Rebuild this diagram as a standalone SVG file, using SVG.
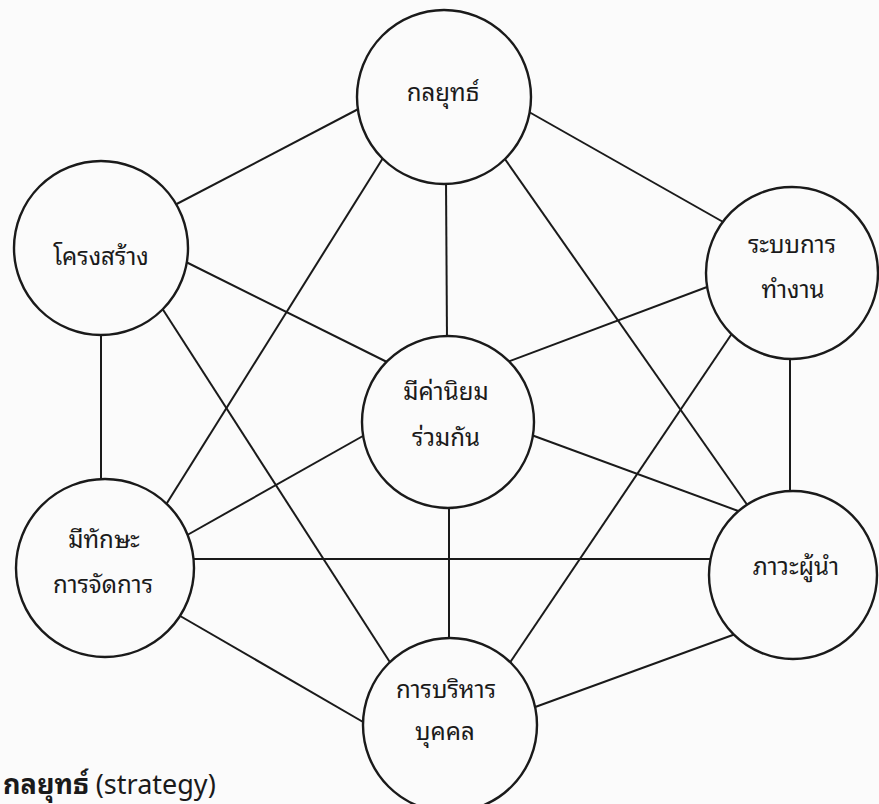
<svg xmlns="http://www.w3.org/2000/svg" width="879" height="804" viewBox="0 0 879 804">
<style>
.bg{fill:#fbfbfb}
.c{fill:#fbfbfb;stroke:#1a1a1a;stroke-width:2.4}
.l{stroke:#1a1a1a;stroke-width:2;fill:none}
.t{font-family:"Noto Sans Thai Looped","Noto Sans Thai","Noto Sans","DejaVu Sans",sans-serif;font-size:24px;fill:#1a1a1a;text-anchor:middle}
.b{font-family:"Noto Sans Thai Looped","Noto Sans Thai","Noto Sans","DejaVu Sans",sans-serif;font-size:27px;fill:#1a1a1a}
</style>
<rect class="bg" x="0" y="0" width="879" height="804"/>
<g id="connectors">
<line class="l" x1="366" y1="105" x2="169" y2="208"/>
<line class="l" x1="522" y1="108" x2="732" y2="227"/>
<line class="l" x1="446" y1="180" x2="447" y2="340"/>
<line class="l" x1="388" y1="150" x2="162" y2="511"/>
<line class="l" x1="500" y1="152" x2="748" y2="506"/>
<line class="l" x1="180" y1="259" x2="393" y2="365"/>
<line class="l" x1="101" y1="330" x2="101" y2="482"/>
<line class="l" x1="160" y1="305" x2="393" y2="667"/>
<line class="l" x1="715" y1="284" x2="502" y2="364"/>
<line class="l" x1="790" y1="355" x2="790" y2="495"/>
<line class="l" x1="735" y1="329" x2="507" y2="667"/>
<line class="l" x1="370" y1="432" x2="182" y2="538"/>
<line class="l" x1="526" y1="433" x2="741" y2="512"/>
<line class="l" x1="449" y1="505" x2="449" y2="642"/>
<line class="l" x1="190" y1="559" x2="712" y2="559"/>
<line class="l" x1="175" y1="613" x2="370" y2="726"/>
<line class="l" x1="741" y1="632" x2="527" y2="710"/>
</g>
<g id="strategy"><circle class="c" cx="444" cy="97" r="87"/><text class="t" x="443" y="101">กลยุทธ์</text></g>
<g id="structure"><circle class="c" cx="101" cy="248" r="87"/><text class="t" x="101" y="265">โครงสร้าง</text></g>
<g id="systems"><circle class="c" cx="792" cy="273" r="86"/><text class="t" x="792" y="253">ระบบการ</text><text class="t" x="793" y="298">ทำงาน</text></g>
<g id="shared-values"><circle class="c" cx="448" cy="422" r="86"/><text class="t" x="446" y="400">มีค่านิยม</text><text class="t" x="446" y="446">ร่วมกัน</text></g>
<g id="skills"><circle class="c" cx="105" cy="568" r="89"/><text class="t" x="104" y="548">มีทักษะ</text><text class="t" x="103" y="593">การจัดการ</text></g>
<g id="leadership"><circle class="c" cx="793" cy="575" r="84"/><text class="t" x="796" y="575">ภาวะผู้นำ</text></g>
<g id="staff"><circle class="c" cx="450" cy="725" r="87"/><text class="t" x="446" y="698">การบริหาร</text><text class="t" x="445" y="740">บุคคล</text></g>
<text class="b" x="3" y="794"><tspan font-weight="bold">กลยุทธ์</tspan> (strategy)</text>
</svg>
